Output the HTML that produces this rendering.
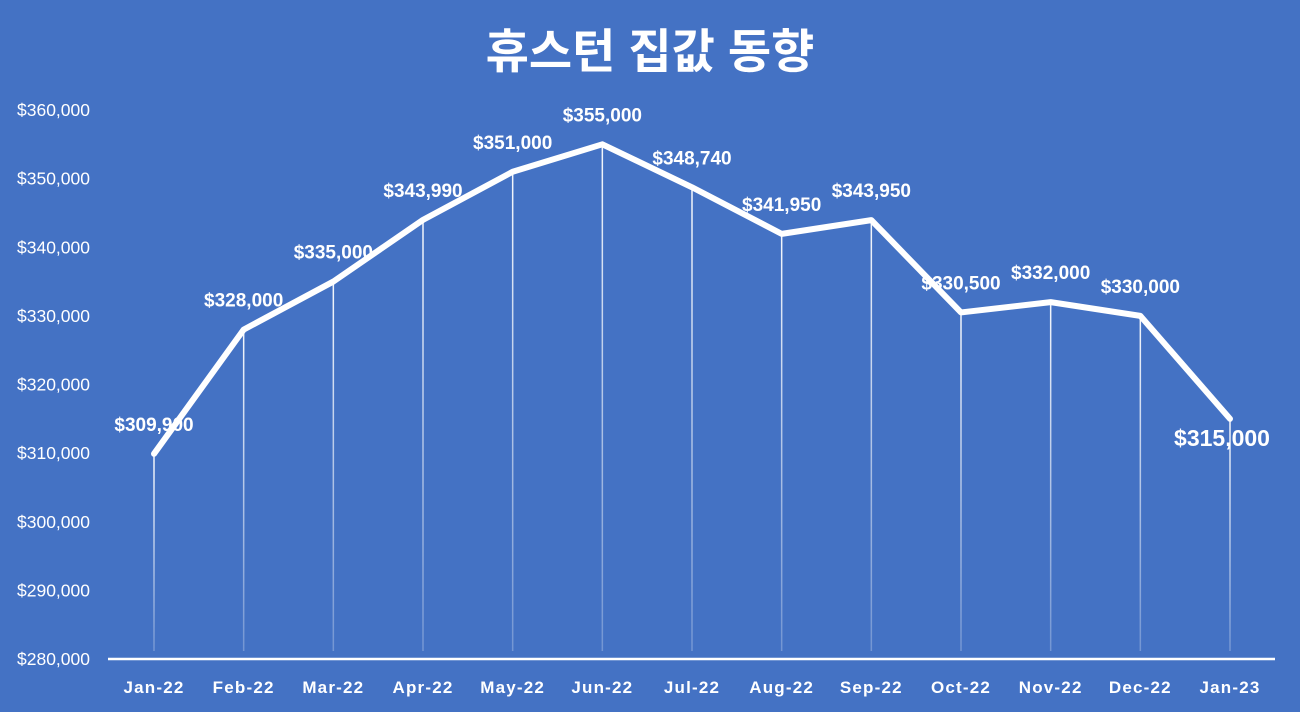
<!DOCTYPE html>
<html><head><meta charset="utf-8"><style>
html,body{margin:0;padding:0;background:#4472C4;}
svg{display:block;}
text{font-family:"Liberation Sans","Noto Sans CJK KR",sans-serif;fill:#fff;}
</style></head><body>
<svg id="chart" width="1300" height="712" viewBox="0 0 1300 712" xmlns="http://www.w3.org/2000/svg">
<rect width="1300" height="712" fill="#4472C4"/>
<text x="650" y="68" text-anchor="middle" font-size="47" font-weight="bold">휴스턴 집값 동향</text>
<g id="yaxis"></g><g id="drops"></g><g id="line"></g><g id="labels"></g><g id="xaxis"></g>
</svg>
<script>
const categories=["Jan-22","Feb-22","Mar-22","Apr-22","May-22","Jun-22","Jul-22","Aug-22","Sep-22","Oct-22","Nov-22","Dec-22","Jan-23"];
const values=[309900,328000,335000,343990,351000,355000,348740,341950,343950,330500,332000,330000,315000];
const yTicks=[280000,290000,300000,310000,320000,330000,340000,350000,360000];
const NS="http://www.w3.org/2000/svg";
const x0=154,x1=1230,yMin=280000,yMax=360000,yB=659,yT=110;
const xs=i=>x0+(x1-x0)*i/(categories.length-1);
const ys=v=>yB-(v-yMin)/(yMax-yMin)*(yB-yT);
const fmt=v=>"$"+v.toLocaleString("en-US");
function mk(tag,attrs,parent,txt){const e=document.createElementNS(NS,tag);for(const k in attrs)e.setAttribute(k,attrs[k]);if(txt!==undefined)e.textContent=txt;document.getElementById(parent).appendChild(e);return e;}
yTicks.forEach(t=>{
 const e=mk("text",{x:90,y:ys(t)+6,"text-anchor":"end","font-size":"17.5"},"yaxis",fmt(t));
 
 
});
const ax=mk("line",{x1:108,x2:1275,y1:yB,y2:yB,stroke:"#fff","stroke-width":2.5},"xaxis");


const defs=mk("defs",{},"drops");
defs.innerHTML='<linearGradient id="fade" x1="0" y1="0" x2="0" y2="1"><stop offset="0" stop-color="#fff" stop-opacity="0.95"/><stop offset="1" stop-color="#fff" stop-opacity="0.25"/></linearGradient>';
categories.forEach((c,i)=>{
 const e=mk("text",{x:xs(i),y:693,"text-anchor":"middle","font-size":"17","font-weight":"bold","letter-spacing":"1.2"},"xaxis",c);
 
 
 const d=mk("rect",{x:xs(i)-0.75,y:ys(values[i]),width:1.5,height:yB-ys(values[i])-8,fill:"url(#fade)"},"drops");
 
 
});
const p=mk("polyline",{points:values.map((v,i)=>xs(i)+","+ys(v)).join(" "),fill:"none",stroke:"#fff","stroke-width":6,"stroke-linejoin":"round","stroke-linecap":"round"},"line");


values.forEach((v,i)=>{
 const last=i===values.length-1;
 const e=mk("text",{x:xs(i)-(last?8:0),y:last?ys(v)+27:ys(v)-23,"text-anchor":"middle","font-size":last?"23":"19","font-weight":"bold"},"labels",fmt(v));
 
 
});
</script>
</body></html>
